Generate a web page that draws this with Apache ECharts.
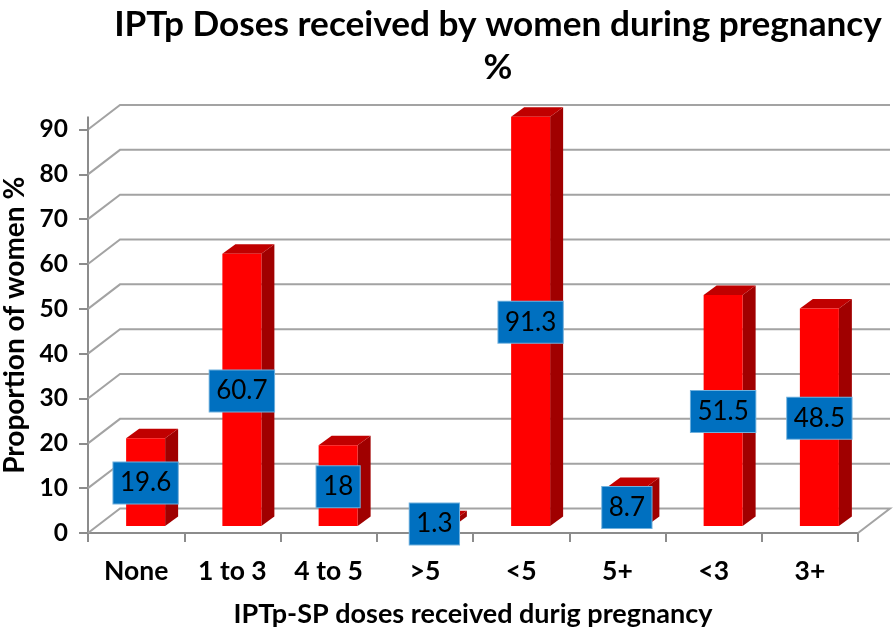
<!DOCTYPE html>
<html><head><meta charset="utf-8">
<style>html,body{margin:0;padding:0;background:#fff}#c{width:894px;height:632px}</style>
<script src="https://cdn.jsdelivr.net/npm/echarts@6/dist/echarts.min.js"></script>
</head><body><div id="c"></div>
<script>
const categories = ['None','1 to 3','4 to 5','>5','<5','5+','<3','3+'];
const values = [19.6,60.7,18,1.3,91.3,8.7,51.5,48.5];
const labels = ['19.6','60.7','18','1.3','91.3','8.7','51.5','48.5'];
const yTicks = [0,10,20,30,40,50,60,70,80,90];
const titleText = 'IPTp Doses received by women during pregnancy\n%';
const xName = 'IPTp-SP doses received durig pregnancy';
const yName = 'Proportion of women %';

const FONT = 'Lato, "Open Sans", sans-serif';
const DX = 32, DY = -24.5;           // depth of the chart floor
const BAR_W = 39, BAR_DX = 9.5, BAR_DY = -7, BAR_DEPTH_X = 13, BAR_DEPTH_Y = -9.5;
const GRID = '#a3a3a3', AXIS = '#8c8c8c';

const chart = echarts.init(document.getElementById('c'), null, {renderer:'canvas'});
chart.setOption({
  animation:false,
  backgroundColor:'#fff',
  title:{text:titleText,left:493,top:-1.5,textAlign:'center',
    textStyle:{fontFamily:FONT,fontWeight:'bold',fontSize:35.2,color:'#000',lineHeight:43}},
  grid:{left:88,right:36,top:129.5,bottom:99,containLabel:false,outerBoundsMode:'none'},
  xAxis:{type:'category',data:categories,
    name:xName,nameLocation:'middle',nameGap:68,
    nameTextStyle:{fontFamily:FONT,fontWeight:'bold',fontSize:27,color:'#000'},
    axisLine:{lineStyle:{color:AXIS,width:2}},
    axisTick:{show:true,length:9,alignWithLabel:false,lineStyle:{color:AXIS,width:2}},
    axisLabel:{interval:0,margin:25,fontFamily:FONT,fontWeight:'bold',fontSize:26.5,color:'#000'},
    splitLine:{show:false}},
  yAxis:{type:'value',min:0,max:90,interval:10,
    name:yName,nameLocation:'middle',nameGap:56,
    nameTextStyle:{fontFamily:FONT,fontWeight:'bold',fontSize:28,color:'#000',padding:[0,0,0,12]},
    axisLine:{show:true,lineStyle:{color:AXIS,width:2}},
    axisTick:{show:true,length:9,lineStyle:{color:AXIS,width:2}},
    axisLabel:{margin:20,fontFamily:FONT,fontWeight:'bold',fontSize:24.5,color:'#000'},
    splitLine:{show:false}},
  series:[
    { // back wall and floor lines
      type:'custom',silent:true,clip:false,z:1,
      data:yTicks.map(t=>[0,t]),
      renderItem(params,api){
        const cs=params.coordSys;
        const y=api.coord([0,api.value(1)])[1];
        const left=cs.x,right=cs.x+cs.width;
        const style={stroke:GRID,lineWidth:2,fill:null};
        const pts=[[left,y],[left+DX,y+DY],[right+DX,y+DY]];
        if(api.value(1)===yTicks[0]) pts.push([right,y]);
        const children=[{type:'polyline',shape:{points:pts},style}];
        if(api.value(1)===yTicks[yTicks.length-1])
          children.push({type:'line',shape:{x1:left,y1:y,x2:left,y2:y-13},style:{stroke:AXIS,lineWidth:2}});
        return {type:'group',children};
      }
    },
    { // 3D bars
      type:'custom',silent:true,clip:false,z:3,
      data:values.map((v,i)=>[i,v]),
      encode:{x:0,y:1},
      renderItem(params,api){
        const i=api.value(0),v=api.value(1);
        const top=api.coord([i,v]),base=api.coord([i,0]);
        const x0=top[0]-BAR_W/2+BAR_DX,x1=x0+BAR_W;
        const yT=top[1]+BAR_DY,yB=base[1]+BAR_DY;
        return {type:'group',children:[
          {type:'polygon',shape:{points:[[x1,yT],[x1+BAR_DEPTH_X,yT+BAR_DEPTH_Y],[x1+BAR_DEPTH_X,yB+BAR_DEPTH_Y],[x1,yB]]},style:{fill:'#a00000'}},
          {type:'polygon',shape:{points:[[x0,yT],[x0+BAR_DEPTH_X,yT+BAR_DEPTH_Y],[x1+BAR_DEPTH_X,yT+BAR_DEPTH_Y],[x1,yT]]},style:{fill:'#c00000'}},
          {type:'rect',shape:{x:x0,y:yT,width:BAR_W,height:yB-yT},style:{fill:'#ff0000'}}
        ]};
      }
    },
    { // value labels in blue boxes
      type:'custom',silent:true,clip:false,z:5,
      data:values.map((v,i)=>[i,v]),
      encode:{x:0,y:1},
      renderItem(params,api){
        const i=api.value(0),v=api.value(1);
        const mid=api.coord([i,v/2]);
        return {type:'text',x:mid[0]+BAR_DX,y:mid[1]+BAR_DY+1,
          style:{text:labels[i],fontFamily:FONT,fontSize:26,fill:'#000',
            align:'center',verticalAlign:'middle',
            backgroundColor:'#0070c0',padding:[8,6.5,7,6.5],
            borderColor:'#6fb0dd',borderWidth:1}};
      }
    }
  ]
});
</script></body></html>
